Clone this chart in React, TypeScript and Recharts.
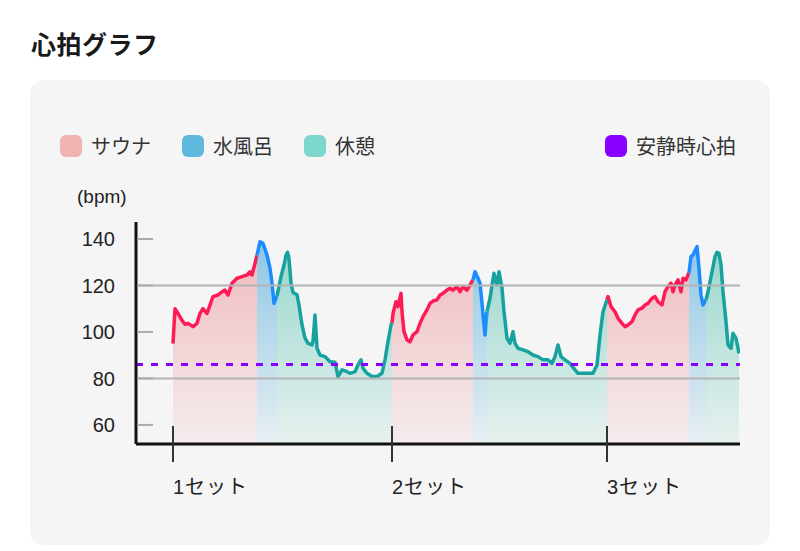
import React from 'react';
import { ComposedChart, Area, XAxis, YAxis, ReferenceLine } from 'recharts';

// time in minutes from start of set 1, heart rate in bpm
const sauna1: [number, number][] = [
  [0, 95], [0.2, 110], [0.5, 108], [0.9, 105], [1.2, 103.3], [1.5, 103.7], [2.0, 102.3], [2.4, 103.7],
  [2.7, 108], [3.0, 110], [3.4, 108], [3.7, 111.6], [4.0, 115.2], [4.5, 115.9], [4.9, 117.3], [5.2, 118],
  [5.5, 115.9], [5.9, 121], [6.4, 123.1], [6.9, 123.8], [7.4, 124.5], [7.7, 125.9], [7.9, 124.5], [8.2, 129.5], [8.4, 133],
];
const cold1: [number, number][] = [
  [8.4, 133], [8.7, 138.8], [9.0, 138.1], [9.4, 133.1], [9.7, 127.4], [9.9, 121], [10.1, 112.3], [10.4, 115.5],
];
const rest1: [number, number][] = [
  [10.4, 115.5], [10.8, 123.8], [11.1, 128.8], [11.3, 133], [11.45, 134.3], [11.6, 131.5], [11.8, 121], [12.0, 117],
  [12.4, 116], [12.6, 111.6], [12.9, 103], [13.2, 97.3], [13.5, 95.1], [13.9, 94.4], [14.0, 96], [14.2, 107.3], [14.4, 93],
  [14.7, 90.1], [15.2, 89.4], [15.7, 87.2], [16.2, 87], [16.5, 80.8], [16.9, 83.7], [17.4, 82.9], [17.7, 82.2],
  [18.2, 82.9], [18.5, 85.8], [18.8, 88], [19.0, 84.4], [19.4, 82.2], [19.9, 80.8], [20.4, 80.8], [20.9, 82.2],
  [21.2, 88], [21.5, 95.8], [21.8, 103], [21.9, 104],
];
const sauna2: [number, number][] = [
  [21.9, 104], [22.0, 108], [22.3, 113], [22.5, 110.9], [22.8, 116.6], [22.9, 108.7], [23.1, 100.1], [23.4, 96.6],
  [23.7, 95.8], [24.0, 98.7], [24.4, 100.1], [24.7, 103.7], [25.0, 106.6], [25.4, 109.5], [25.7, 112.3], [26.0, 113.3],
  [26.4, 113.8], [26.7, 115.9], [27.0, 116.6], [27.4, 118], [27.7, 118.8], [28.0, 118], [28.4, 119.5], [28.7, 117.3],
  [29.0, 119.5], [29.4, 118], [29.7, 120.2], [30.0, 122.4],
];
const cold2: [number, number][] = [
  [30.0, 122.4], [30.2, 125.9], [30.5, 123.1], [30.7, 121], [30.9, 112.3], [31.2, 98.7], [31.4, 108.7],
];
const rest2: [number, number][] = [
  [31.4, 108.7], [31.7, 114.5], [31.9, 120], [32.1, 125.2], [32.4, 120.2], [32.6, 125.9], [32.9, 118.8], [33.1, 108.7],
  [33.4, 97.3], [33.7, 95.1], [34.0, 100.1], [34.2, 95.1], [34.5, 93], [35.0, 92.3], [35.5, 91.5], [36.0, 90.1],
  [36.5, 89.4], [37.0, 88], [37.5, 88], [37.9, 86.5], [38.2, 89.4], [38.5, 94.4], [38.8, 89.4], [39.2, 88],
  [39.7, 86.5], [40.2, 83.7], [40.5, 82.2], [41.0, 82.2], [41.5, 82.2], [42.0, 82.2], [42.4, 85.8], [42.7, 98.7],
  [43.0, 108.7], [43.4, 113.8],
];
const sauna3: [number, number][] = [
  [43.4, 113.8], [43.5, 115.2], [43.8, 110.9], [44.2, 108.7], [44.5, 105.9], [44.9, 103.7], [45.2, 102.3], [45.5, 103],
  [45.9, 104.4], [46.2, 107.3], [46.5, 109.5], [46.9, 110.2], [47.2, 111.6], [47.5, 112.3], [47.9, 114.5], [48.2, 115.2],
  [48.5, 113], [48.9, 111.6], [49.2, 117.3], [49.5, 119.5], [49.8, 121], [50.0, 117.3], [50.2, 120.2], [50.5, 122.4],
  [50.8, 117.3], [51.0, 123.1], [51.3, 122.4], [51.6, 125.5],
];
const cold3: [number, number][] = [
  [51.6, 125.5], [51.8, 132.4], [52.0, 133.1], [52.4, 136.7], [52.6, 127.4], [52.8, 115.9], [53.0, 111.6], [53.3, 113.8],
];
const rest3: [number, number][] = [
  [53.3, 113.8], [53.5, 117.3], [53.9, 125.9], [54.2, 132.4], [54.4, 134.3], [54.6, 133.8], [54.8, 128.8], [55.0, 117.3],
  [55.3, 104.4], [55.5, 94.4], [55.8, 93], [56.0, 99.4], [56.3, 97.3], [56.5, 93], [56.6, 90.8],
];

const setStarts = [0, 21.9, 43.4];
const setLabels = ['1セット', '2セット', '3セット'];
const yTicks = [60, 80, 100, 120, 140];
const gridValues = [80, 120];
const restingHr = 86;

const legendItems = [
  { label: 'サウナ', color: '#f0b3b1' },
  { label: '水風呂', color: '#5fb9dc' },
  { label: '休憩', color: '#7dd7cd' },
];

const segments: { key: 'sauna' | 'cold' | 'rest'; pts: [number, number][] }[] = [
  { key: 'sauna', pts: sauna1 }, { key: 'cold', pts: cold1 }, { key: 'rest', pts: rest1 },
  { key: 'sauna', pts: sauna2 }, { key: 'cold', pts: cold2 }, { key: 'rest', pts: rest2 },
  { key: 'sauna', pts: sauna3 }, { key: 'cold', pts: cold3 }, { key: 'rest', pts: rest3 },
];

const data: any[] = [];
segments.forEach((s) => {
  s.pts.forEach(([t, v]) => {
    data.push({ t, sauna: null, cold: null, rest: null, [s.key]: v });
  });
});

const FONT = "'Liberation Sans', 'Noto Sans CJK JP', sans-serif";

const YTick = (props: any) => {
  const { x, y, payload } = props;
  return (
    <g>
      <text x={x} y={y} dy="0.36em" textAnchor="end" fontSize={20} fill="#222" fontFamily={FONT}>
        {payload.value}
      </text>
      <line x1={x + 22} x2={x + 38} y1={y} y2={y} stroke="#aaaaaa" strokeWidth={2} />
    </g>
  );
};

const XTick = (props: any) => {
  const { x, y, index } = props;
  return (
    <g>
      <line x1={x} x2={x} y1={y - 18} y2={y + 18} stroke="#333" strokeWidth={2} />
      <text x={x} y={y + 50} textAnchor="start" fontSize={20} letterSpacing={1} fill="#222" fontFamily={FONT}>
        {setLabels[index]}
      </text>
    </g>
  );
};

export default function App() {
  return (
    <div style={{ position: 'absolute', left: 0, top: 0, width: 800, height: 551, background: '#fff', fontFamily: FONT }}>
      <div style={{ position: 'absolute', left: 31, top: 31, fontSize: 25, fontWeight: 700, lineHeight: 1, color: '#1a1a1a', fontFamily: "'Noto Sans CJK JP', sans-serif", letterSpacing: 0.5 }}>
        心拍グラフ
      </div>
      <div style={{ position: 'absolute', left: 30, top: 80, width: 740, height: 465, borderRadius: 14, background: '#f5f5f5' }} />
      <div style={{ position: 'absolute', left: 60, top: 135, height: 22, display: 'flex', alignItems: 'center' }}>
        {legendItems.map((it) => (
          <div key={it.label} style={{ display: 'flex', alignItems: 'center', marginRight: 31 }}>
            <div style={{ width: 22, height: 22, borderRadius: 6, background: it.color, marginRight: 9 }} />
            <span style={{ fontSize: 20, color: '#333', fontFamily: "'Noto Sans CJK JP', sans-serif", lineHeight: '22px' }}>{it.label}</span>
          </div>
        ))}
      </div>
      <div style={{ position: 'absolute', left: 605, top: 135, height: 22, display: 'flex', alignItems: 'center' }}>
        <div style={{ width: 22, height: 22, borderRadius: 6, background: '#8a00ff', marginRight: 9 }} />
        <span style={{ fontSize: 20, color: '#333', fontFamily: "'Noto Sans CJK JP', sans-serif", lineHeight: '22px' }}>安静時心拍</span>
      </div>
      <div style={{ position: 'absolute', left: 77, top: 187, fontSize: 19, color: '#222', lineHeight: 1, fontFamily: FONT }}>(bpm)</div>
      <div style={{ position: 'absolute', left: 0, top: 0 }}>
        <ComposedChart width={800} height={551} data={data} margin={{ top: 222, right: 60, bottom: 0, left: 0 }}>
          <defs>
            <linearGradient id="gSauna" x1="0" y1="222" x2="0" y2="444" gradientUnits="userSpaceOnUse">
              <stop offset="0" stopColor="#ec8d95" stopOpacity={0.62} />
              <stop offset="1" stopColor="#ec8d95" stopOpacity={0.08} />
            </linearGradient>
            <linearGradient id="gCold" x1="0" y1="222" x2="0" y2="444" gradientUnits="userSpaceOnUse">
              <stop offset="0" stopColor="#49a7d9" stopOpacity={0.65} />
              <stop offset="1" stopColor="#49a7d9" stopOpacity={0.08} />
            </linearGradient>
            <linearGradient id="gRest" x1="0" y1="222" x2="0" y2="444" gradientUnits="userSpaceOnUse">
              <stop offset="0" stopColor="#48beac" stopOpacity={0.6} />
              <stop offset="1" stopColor="#48beac" stopOpacity={0.08} />
            </linearGradient>
          </defs>
          <XAxis
            type="number"
            dataKey="t"
            domain={[-3.7, 56.7]}
            ticks={setStarts}
            allowDataOverflow
            height={107}
            tickSize={0}
            tickMargin={0}
            tickLine={false}
            axisLine={{ stroke: '#111', strokeWidth: 3 }}
            tick={<XTick />}
            interval={0}
          />
          <YAxis
            type="number"
            domain={[51.8, 147.3]}
            ticks={yTicks}
            allowDataOverflow
            width={136}
            tickSize={0}
            tickMargin={21}
            tickLine={false}
            axisLine={{ stroke: '#111', strokeWidth: 3 }}
            tick={<YTick />}
            interval={0}
          />
          {gridValues.map((v) => (
            <ReferenceLine key={v} y={v} stroke="#b3b3b3" strokeWidth={2} />
          ))}
          <Area type="linear" dataKey="sauna" stroke="#ff1a55" strokeWidth={3.5} strokeLinejoin="round" fill="url(#gSauna)" fillOpacity={1} isAnimationActive={false} dot={false} activeDot={false} />
          <Area type="linear" dataKey="cold" stroke="#1a8cff" strokeWidth={3.5} strokeLinejoin="round" fill="url(#gCold)" fillOpacity={1} isAnimationActive={false} dot={false} activeDot={false} />
          <Area type="linear" dataKey="rest" stroke="#17a2a0" strokeWidth={3.5} strokeLinejoin="round" fill="url(#gRest)" fillOpacity={1} isAnimationActive={false} dot={false} activeDot={false} />
          <ReferenceLine y={restingHr} stroke="#8a00ff" strokeWidth={3} strokeDasharray="7 8" />
        </ComposedChart>
      </div>
    </div>
  );
}
